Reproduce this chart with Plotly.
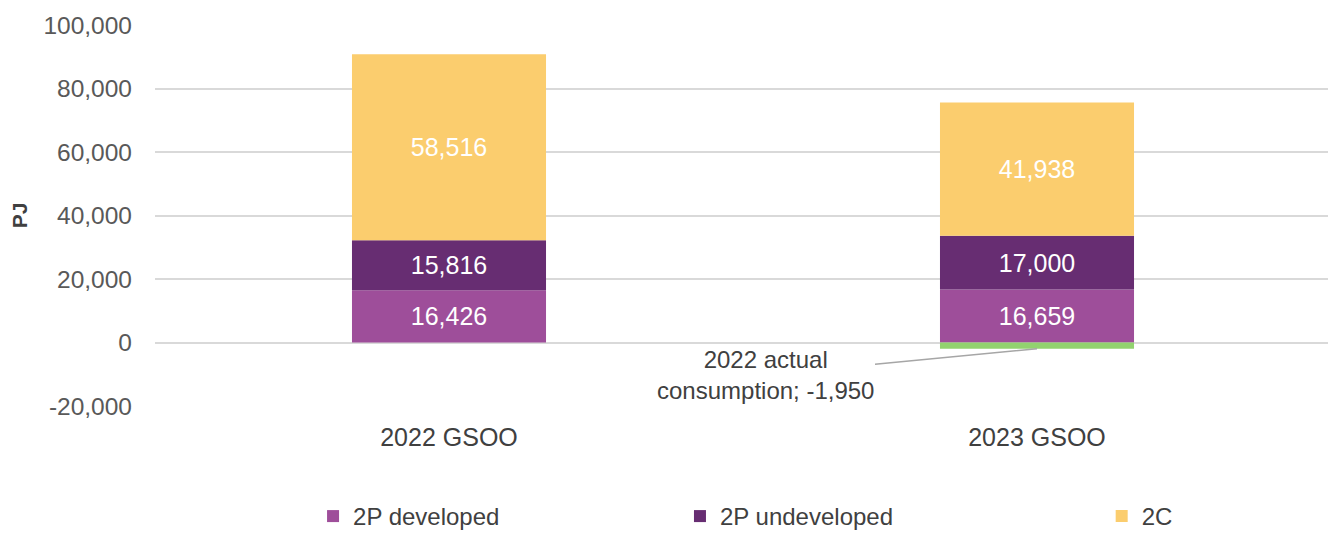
import plotly.graph_objects as go

categories = ["2022 GSOO", "2023 GSOO"]
developed_2p = [16426, 16659]
undeveloped_2p = [15816, 17000]
contingent_2c = [58516, 41938]
actual_consumption = [None, -1950]
y_ticks = [-20000, 0, 20000, 40000, 60000, 80000, 100000]
y_tick_labels = ["-20,000", "0", "20,000", "40,000", "60,000", "80,000", "100,000"]

FONT = "Liberation Sans, Arial, sans-serif"

fig = go.Figure()
series = [
    ("2P developed", developed_2p, "#9E4E9A", "legend"),
    ("2P undeveloped", undeveloped_2p, "#672D72", "legend2"),
    ("2C", contingent_2c, "#FBCD6E", "legend3"),
]
for name, vals, col, leg in series:
    fig.add_trace(go.Bar(
        name=name, x=categories, y=vals, marker=dict(color=col, line=dict(width=0)),
        text=[f"{v:,}" for v in vals], textposition="inside", insidetextanchor="middle",
        textfont=dict(color="white", size=25, family=FONT), width=0.33, legend=leg,
    ))
fig.add_trace(go.Bar(
    name="2022 actual consumption", x=categories, y=actual_consumption,
    marker=dict(color="#92D26F", line=dict(width=0)), width=0.33, showlegend=False,
))

fig.add_annotation(
    x=categories[1], y=actual_consumption[1], xref="x", yref="y",
    text="2022 actual<br>consumption; -1,950", showarrow=True, arrowhead=0,
    arrowwidth=1.5, arrowcolor="#A6A6A6", ax=-272, ay=26,
    font=dict(size=24, color="#404040", family=FONT), align="center",
)

leg_common = dict(orientation="h", yanchor="middle", y=-0.29, xanchor="left",
                  font=dict(size=24, color="#404040", family=FONT), itemwidth=30,
                  bgcolor="rgba(0,0,0,0)")

# page body has an 8px default margin, so the figure is sized/placed to compensate
fig.update_layout(
    barmode="relative",
    width=1328, height=525,
    margin=dict(l=147, r=5, t=17, b=127, autoexpand=False),
    plot_bgcolor="white", paper_bgcolor="white",
    font=dict(family=FONT, color="#595959", size=24),
    yaxis=dict(range=[-20000, 100000], tickvals=y_ticks, ticktext=y_tick_labels,
               gridcolor="#D9D9D9", gridwidth=1.5, zeroline=False, ticklen=0,
               ticks="", showline=False, ticklabelstandoff=22, automargin=False,
               title=dict(text="<b>PJ</b>", font=dict(size=21, color="#404040"), standoff=18),
               tickfont=dict(size=24.5, color="#595959")),
    xaxis=dict(tickfont=dict(size=25, color="#404040"), showline=False, ticks="",
               automargin=False, ticklabelstandoff=14),
    legend=dict(x=0.1344, **leg_common),
    legend2=dict(x=0.4464, **leg_common),
    legend3=dict(x=0.805, **leg_common),
)

fig.write_html("out.html")
